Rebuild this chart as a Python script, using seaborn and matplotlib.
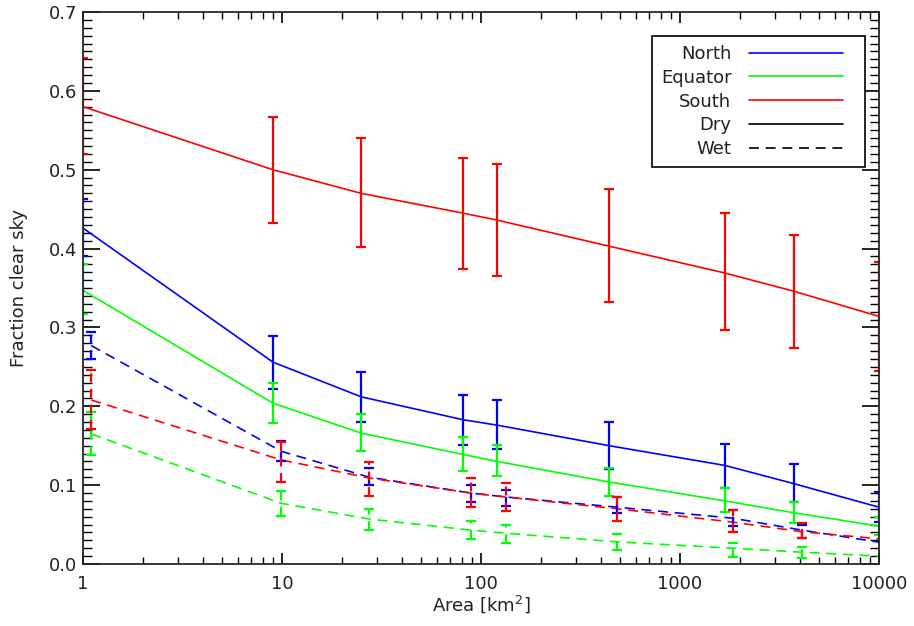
import numpy as np
import pandas as pd
import seaborn as sns
import matplotlib.pyplot as plt
from matplotlib.lines import Line2D
from matplotlib.legend_handler import HandlerLine2D
from matplotlib.ticker import MultipleLocator, LogLocator, NullFormatter, FixedLocator, FixedFormatter

# box areas (km^2); wet points are drawn slightly offset to the right
dry_area = [1, 9, 25, 81, 121, 441, 1681, 3721, 10000]
wet_area = [1.1, 9.9, 27.5, 89, 133, 485, 1850, 4090, 11000]

regions = ["North", "Equator", "South"]

north_dry = [0.426, 0.256, 0.212, 0.183, 0.176, 0.150, 0.125, 0.102, 0.072]
north_dry_lo = [0.390, 0.222, 0.180, 0.151, 0.146, 0.120, 0.097, 0.079, 0.053]
north_dry_hi = [0.463, 0.289, 0.244, 0.214, 0.208, 0.180, 0.152, 0.127, 0.091]

equator_dry = [0.347, 0.204, 0.166, 0.139, 0.130, 0.104, 0.080, 0.065, 0.048]
equator_dry_lo = [0.317, 0.179, 0.143, 0.118, 0.111, 0.086, 0.066, 0.052, 0.037]
equator_dry_hi = [0.380, 0.229, 0.190, 0.161, 0.151, 0.122, 0.096, 0.079, 0.060]

south_dry = [0.580, 0.500, 0.470, 0.445, 0.436, 0.403, 0.369, 0.346, 0.314]
south_dry_lo = [0.520, 0.432, 0.402, 0.374, 0.365, 0.332, 0.297, 0.274, 0.245]
south_dry_hi = [0.642, 0.567, 0.540, 0.515, 0.507, 0.475, 0.445, 0.417, 0.383]

north_wet = [0.277, 0.143, 0.110, 0.090, 0.085, 0.072, 0.058, 0.043, 0.026]
north_wet_lo = [0.260, 0.131, 0.100, 0.079, 0.074, 0.065, 0.048, 0.033, 0.018]
north_wet_hi = [0.294, 0.156, 0.122, 0.100, 0.094, 0.085, 0.068, 0.050, 0.034]

equator_wet = [0.165, 0.077, 0.057, 0.043, 0.039, 0.028, 0.020, 0.015, 0.0095]
equator_wet_lo = [0.138, 0.061, 0.043, 0.032, 0.027, 0.018, 0.009, 0.008, 0.003]
equator_wet_hi = [0.193, 0.093, 0.070, 0.055, 0.049, 0.038, 0.027, 0.022, 0.016]

south_wet = [0.208, 0.132, 0.109, 0.090, 0.085, 0.070, 0.053, 0.041, 0.031]
south_wet_lo = [0.171, 0.104, 0.086, 0.072, 0.067, 0.054, 0.041, 0.033, 0.023]
south_wet_hi = [0.246, 0.155, 0.129, 0.109, 0.103, 0.085, 0.068, 0.052, 0.039]

colors = {"North": "#0000ff", "Equator": "#00ff00", "South": "#ff0000"}

series = {
    ("North", "Dry"): (dry_area, north_dry, north_dry_lo, north_dry_hi),
    ("Equator", "Dry"): (dry_area, equator_dry, equator_dry_lo, equator_dry_hi),
    ("South", "Dry"): (dry_area, south_dry, south_dry_lo, south_dry_hi),
    ("North", "Wet"): (wet_area, north_wet, north_wet_lo, north_wet_hi),
    ("Equator", "Wet"): (wet_area, equator_wet, equator_wet_lo, equator_wet_hi),
    ("South", "Wet"): (wet_area, south_wet, south_wet_lo, south_wet_hi),
}

rows = []
for (reg, cond), (xs, ys, los, his) in series.items():
    for x, y, lo, hi in zip(xs, ys, los, his):
        rows.append({"region": reg, "condition": cond, "area": x, "frac": y, "lo": lo, "hi": hi})
df = pd.DataFrame(rows)


class ShortLine(HandlerLine2D):
    # leave some blank room right of the legend line, like the IDL legend
    def create_artists(self, legend, orig_handle, xdescent, ydescent, width, height, fontsize, trans):
        return super().create_artists(legend, orig_handle, xdescent, ydescent,
                                      width - 9, height, fontsize, trans)


sns.set_style("ticks")
plt.rcParams["font.family"] = ["DejaVu Sans"]
plt.rcParams["font.size"] = 13
plt.rcParams["axes.linewidth"] = 1.3

fig = plt.figure(figsize=(9.14, 6.26), dpi=100)
ax = fig.add_axes([83 / 914, 62 / 626, 796 / 914, 552 / 626])

wet_dash = (6, 4)
sns.lineplot(data=df, x="area", y="frac", hue="region", style="condition",
             palette=colors, dashes={"Dry": "", "Wet": wet_dash},
             estimator=None, sort=True, legend=False, linewidth=1.2, ax=ax)

for (reg, cond), (xs, ys, los, his) in series.items():
    ys = np.array(ys)
    yerr = [ys - np.array(los), np.array(his) - ys]
    eb = ax.errorbar(xs, ys, yerr=yerr, fmt="none", ecolor=colors[reg],
                     elinewidth=1.6, capsize=3.5, capthick=1.6)
    if cond == "Wet":
        eb[2][0].set_linestyle((0, (4, 3)))

ax.set_xscale("log")
ax.set_xlim(1, 10000)
ax.set_ylim(0, 0.7)

ax.xaxis.set_major_locator(FixedLocator([1, 10, 100, 1000, 10000]))
ax.xaxis.set_major_formatter(FixedFormatter(["1", "10", "100", "1000", "10000"]))
ax.xaxis.set_minor_locator(LogLocator(base=10, subs=np.arange(2, 10), numticks=20))
ax.xaxis.set_minor_formatter(NullFormatter())
ax.yaxis.set_major_locator(MultipleLocator(0.1))
ax.yaxis.set_minor_locator(MultipleLocator(0.01))
ax.yaxis.set_major_formatter(plt.FuncFormatter(lambda v, p: f"{v:.1f}"))

ax.tick_params(axis="both", which="both", direction="in", top=True, right=True,
               colors="black", labelcolor="#222222")
ax.tick_params(axis="x", which="major", length=8, width=1.2, labelsize=13, pad=8)
ax.tick_params(axis="x", which="minor", length=5, width=1.0)
ax.tick_params(axis="y", which="major", length=12, width=1.2, labelsize=13, pad=4)
ax.tick_params(axis="y", which="minor", length=6.5, width=1.0)

ax.set_xlabel("Area [km$^2$]", fontsize=13, color="#222222", labelpad=0)
ax.set_ylabel("Fraction clear sky", fontsize=13, color="#222222", labelpad=15)

handles = [
    Line2D([], [], color=colors["North"], lw=1.2),
    Line2D([], [], color=colors["Equator"], lw=1.2),
    Line2D([], [], color=colors["South"], lw=1.2),
    Line2D([], [], color="black", lw=1.2),
    Line2D([], [], color="black", lw=1.2, dashes=wet_dash),
]
leg = ax.legend(handles, ["North", "Equator", "South", "Dry", "Wet"],
                loc="upper right", bbox_to_anchor=(865 / 914, 1 - 36 / 626),
                bbox_transform=fig.transFigure, borderaxespad=0, markerfirst=False,
                frameon=True, fancybox=False, framealpha=1, edgecolor="black",
                handlelength=5.9, handletextpad=1.0, labelspacing=0.32,
                borderpad=0.5, fontsize=13,
                handler_map={Line2D: ShortLine()})
leg.get_frame().set_linewidth(1.2)
for t in leg.get_texts():
    t.set_color("#222222")

fig.savefig("out.png", dpi=100)
